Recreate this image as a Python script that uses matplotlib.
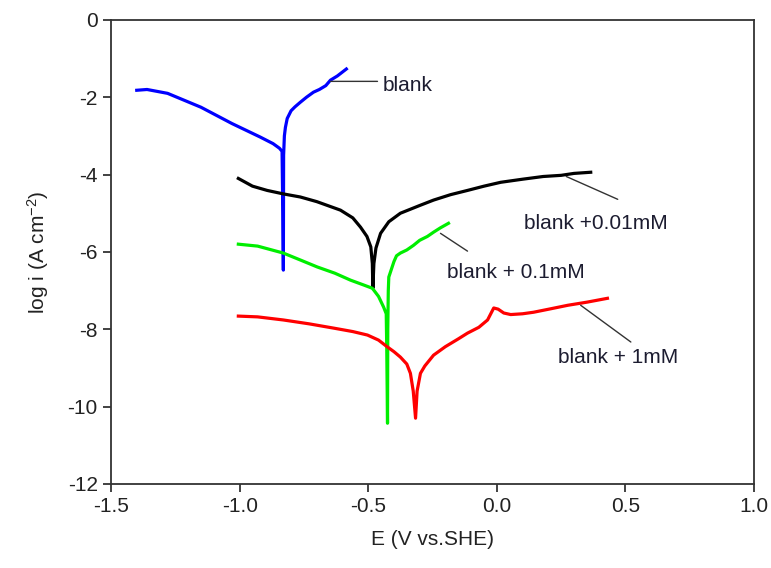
import matplotlib
matplotlib.use('Agg')
import matplotlib.pyplot as plt

plt.rcParams['font.family'] = ['Liberation Sans', 'DejaVu Sans']
plt.rcParams['mathtext.fontset'] = 'custom'
plt.rcParams['mathtext.rm'] = 'Liberation Sans'
plt.rcParams['mathtext.default'] = 'regular'

# blank
e_blank = [-1.40, -1.36, -1.28, -1.15, -1.03, -0.92, -0.87, -0.845, -0.835, -0.832, -0.830,
           -0.829, -0.826, -0.822, -0.815, -0.80, -0.785, -0.764, -0.74, -0.713, -0.69,
           -0.665, -0.647, -0.62, -0.585]
i_blank = [-1.82, -1.80, -1.90, -2.26, -2.68, -3.03, -3.20, -3.32, -3.40, -5.0, -6.47,
           -3.5, -3.0, -2.78, -2.55, -2.35, -2.25, -2.13, -2.00, -1.87, -1.80,
           -1.70, -1.56, -1.45, -1.27]

# blank + 0.01 mM
e_001 = [-1.005, -0.95, -0.893, -0.83, -0.764, -0.70, -0.608, -0.56, -0.53, -0.505, -0.49,
         -0.484, -0.482, -0.478, -0.47, -0.452, -0.42, -0.375, -0.30, -0.246, -0.18, -0.114,
         -0.05, 0.015, 0.10, 0.18, 0.25, 0.30, 0.365]
i_001 = [-4.10, -4.30, -4.41, -4.50, -4.58, -4.70, -4.92, -5.12, -5.36, -5.60, -5.87,
         -6.3, -6.94, -6.3, -5.9, -5.52, -5.22, -5.00, -4.80, -4.66, -4.52, -4.41,
         -4.30, -4.20, -4.12, -4.05, -4.02, -3.97, -3.94]

# blank + 0.1 mM
e_01 = [-1.005, -0.93, -0.83, -0.76, -0.698, -0.63, -0.569, -0.52, -0.484, -0.46, -0.44,
        -0.43, -0.428, -0.425, -0.424, -0.422, -0.42, -0.41, -0.40, -0.39, -0.375, -0.35,
        -0.324, -0.30, -0.27, -0.246, -0.22, -0.188]
i_01 = [-5.80, -5.85, -6.03, -6.22, -6.39, -6.55, -6.73, -6.85, -6.94, -7.15, -7.43,
        -7.6, -8.5, -10.43, -8.0, -7.0, -6.65, -6.45, -6.25, -6.10, -6.03, -5.95,
        -5.83, -5.70, -5.60, -5.49, -5.38, -5.26]

# blank + 1 mM
e_1 = [-1.005, -0.93, -0.83, -0.73, -0.635, -0.56, -0.503, -0.46, -0.425, -0.40, -0.375,
       -0.35, -0.336, -0.325, -0.316, -0.31, -0.297, -0.28, -0.246, -0.20, -0.15, -0.114,
       -0.07, -0.036, -0.012, 0.005, 0.027, 0.054, 0.10, 0.143, 0.21, 0.276, 0.35, 0.43]
i_1 = [-7.66, -7.68, -7.76, -7.86, -7.97, -8.06, -8.15, -8.28, -8.46, -8.58, -8.72,
       -8.90, -9.14, -9.6, -10.3, -9.6, -9.14, -8.95, -8.67, -8.45, -8.25, -8.10,
       -7.95, -7.76, -7.45, -7.48, -7.58, -7.62, -7.60, -7.56, -7.47, -7.38, -7.30, -7.20]

fig = plt.figure(figsize=(7.71, 5.68), dpi=100)
ax = fig.add_axes([0.144, 0.148, 0.834, 0.817])

lw = 2.3
ax.plot(e_blank, i_blank, color='#0000ff', lw=lw)
ax.plot(e_001, i_001, color='black', lw=lw)
ax.plot(e_01, i_01, color='#00ee00', lw=lw)
ax.plot(e_1, i_1, color='#ff0000', lw=lw)

# labels with leader lines
txt = '#1c1c30'
fs = 15
lead = dict(arrowstyle='-', color='#333333', lw=1.0, shrinkA=0, shrinkB=0)
ax.annotate('', xy=(-0.647, -1.59), xytext=(-0.464, -1.59), arrowprops=lead)
ax.text(-0.445, -1.69, 'blank', fontsize=fs, color=txt, va='center', ha='left')
ax.annotate('', xy=(0.27, -4.05), xytext=(0.47, -4.64), arrowprops=lead)
ax.text(0.104, -5.26, 'blank +0.01mM', fontsize=fs, color=txt, va='center', ha='left')
ax.annotate('', xy=(-0.219, -5.52), xytext=(-0.114, -5.98), arrowprops=lead)
ax.text(-0.192, -6.52, 'blank + 0.1mM', fontsize=fs, color=txt, va='center', ha='left')
ax.annotate('', xy=(0.326, -7.38), xytext=(0.521, -8.33), arrowprops=lead)
ax.text(0.237, -8.72, 'blank + 1mM', fontsize=fs, color=txt, va='center', ha='left')

ax.set_xlim(-1.5, 1.0)
ax.set_ylim(-12, 0)
ax.set_xticks([-1.5, -1.0, -0.5, 0.0, 0.5, 1.0])
ax.set_xticklabels(['-1.5', '-1.0', '-0.5', '0.0', '0.5', '1.0'])
ax.set_yticks([0, -2, -4, -6, -8, -10, -12])
ax.set_yticklabels(['0', '-2', '-4', '-6', '-8', '-10', '-12'])
ax.tick_params(direction='out', length=6, width=1.2, labelsize=fs, colors='#222222',
               top=False, right=False)
for s in ax.spines.values():
    s.set_linewidth(1.3)
    s.set_color('#333333')

ax.set_xlabel('E (V vs.SHE)', fontsize=fs, color='#222222', labelpad=10)
ax.set_ylabel('log i (A cm$^{-2}$)', fontsize=fs, color='#222222', labelpad=12)

fig.savefig('out.png', dpi=100)
